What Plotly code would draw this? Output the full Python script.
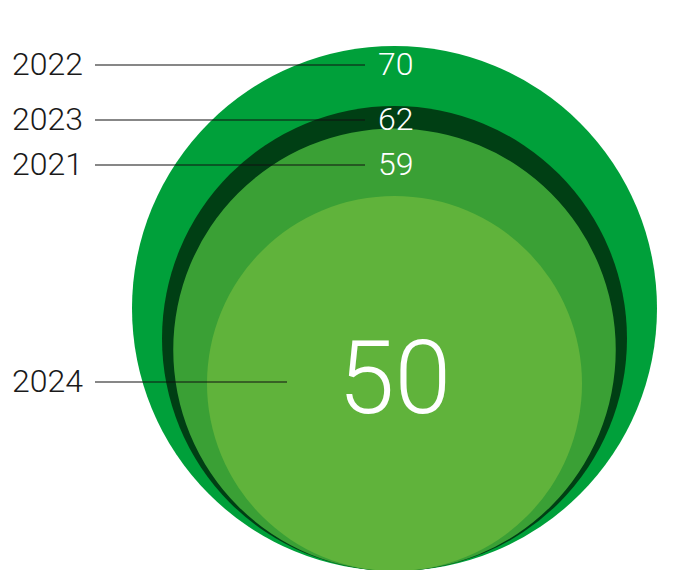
import plotly.graph_objects as go

years = ["2022", "2023", "2021", "2024"]
values = [70, 62, 59, 50]
colors = ["#00a03a", "#003f14", "#3aa035", "#60b33b"]

W, H = 681, 570
k = 3.75            # pixels per value unit (radius = value)
cx_px, base_px = 394.5, 571

fig = go.Figure()
fig.add_trace(go.Scatter(x=[0 for v in values], y=[2 * v for v in values], mode="markers",
                         marker=dict(size=1, opacity=0), hoverinfo="skip", showlegend=False))

for yr, v, c in sorted(zip(years, values, colors), key=lambda t: -t[1]):
    fig.add_shape(type="circle", xref="x", yref="y", x0=-v, x1=v, y0=0, y1=2 * v,
                  fillcolor=c, line=dict(width=0), layer="below")

def py(p):
    return 1 - p / H

def px(p):
    return p / W

label_y = {"2022": 64, "2023": 119, "2021": 164, "2024": 381}
font_fam = "Roboto"
for yr, v in zip(years, values):
    yy = label_y[yr]
    x_end = 287 if yr == "2024" else 365
    fig.add_shape(type="line", xref="paper", yref="paper", x0=px(95), x1=px(x_end),
                  y0=py(yy + 1), y1=py(yy + 1), line=dict(color="#111111", width=1.2))
    fig.add_annotation(xref="paper", yref="paper", x=px(85), y=py(yy), text=yr,
                       xanchor="right", yanchor="middle", showarrow=False,
                       font=dict(family=font_fam, size=32, color="#1a1a1a", weight=300))
    if yr == "2024":
        fig.add_annotation(xref="paper", yref="paper", x=px(395), y=py(378), text=str(v),
                           xanchor="center", yanchor="middle", showarrow=False,
                           font=dict(family=font_fam, size=102, color="white", weight=300))
    else:
        fig.add_annotation(xref="paper", yref="paper", x=px(376), y=py(yy), text=str(v),
                           xanchor="left", yanchor="middle", showarrow=False,
                           font=dict(family=font_fam, size=32, color="white", weight=300))

fig.update_layout(
    width=W, height=H, margin=dict(l=0, r=0, t=0, b=0),
    paper_bgcolor="white", plot_bgcolor="white", showlegend=False,
    xaxis=dict(range=[-cx_px / k, (W - cx_px) / k], visible=False, fixedrange=True),
    yaxis=dict(range=[(base_px - H) / k, base_px / k], visible=False, fixedrange=True),
)
fig.write_html("out.html", config={"displayModeBar": False},
               post_script="document.body.style.margin='0';document.body.style.overflow='hidden';")
